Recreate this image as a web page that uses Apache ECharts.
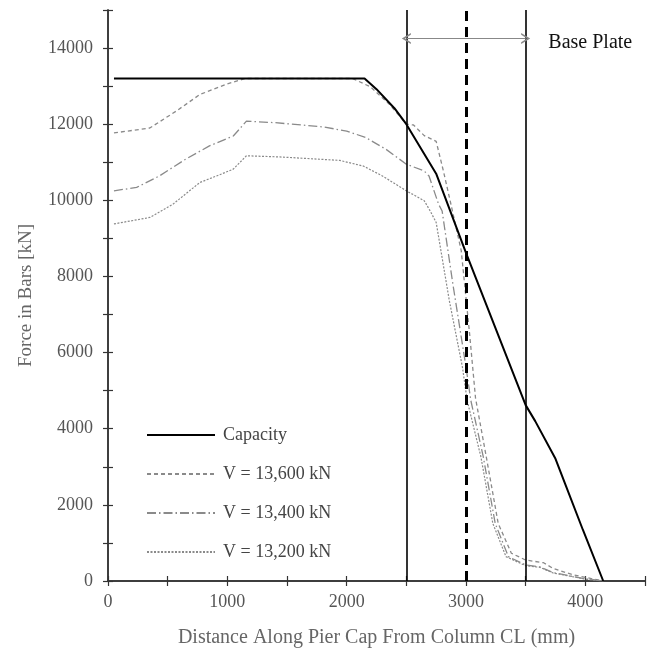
<!DOCTYPE html>
<html>
<head>
<meta charset="utf-8">
<script src="https://cdn.jsdelivr.net/npm/echarts@6/dist/echarts.min.js"></script>
<style>
    html, body { margin: 0; padding: 0; background: #fff; }
    .chart { width: 656px; height: 650px; }
</style>
</head>
<body>
<div class="chart"></div>
<script>
// distance (mm), force (kN)
var capacity = [
    [50, 13200], [2150, 13200], [2250, 12920], [2400, 12420], [2500, 12000],
    [2750, 10700], [3000, 8620], [3500, 4620], [3580, 4200], [3750, 3210],
    [3830, 2560], [3980, 1340], [4150, 0]
];
var v13600 = [
    [50, 11770], [350, 11900], [570, 12340], [770, 12780], [1000, 13060],
    [1150, 13200], [2050, 13200], [2200, 12980], [2360, 12520], [2500, 12000],
    [2560, 11980], [2650, 11700], [2750, 11550], [2810, 10780], [2870, 9950],
    [2960, 8680], [3030, 6500], [3080, 4800], [3170, 3260], [3270, 1510],
    [3380, 730], [3500, 550], [3650, 480], [3730, 330], [3900, 160], [4150, 0]
];
var v13400 = [
    [50, 10250], [240, 10340], [430, 10640], [650, 11080], [850, 11430],
    [1050, 11690], [1160, 12080], [1400, 12040], [1800, 11930], [2000, 11820],
    [2160, 11650], [2330, 11340], [2500, 10950], [2650, 10770], [2690, 10640],
    [2770, 9900], [2800, 9720], [2890, 7800], [3000, 5620], [3040, 4750],
    [3145, 3260], [3245, 1510], [3355, 640], [3500, 420], [3620, 370],
    [3730, 220], [4010, 50], [4150, 0]
];
var v13200 = [
    [50, 9380], [350, 9550], [545, 9900], [770, 10470], [910, 10640],
    [1050, 10820], [1160, 11170], [1440, 11140], [1940, 11050], [2140, 10900],
    [2300, 10640], [2500, 10250], [2650, 9990], [2700, 9720], [2750, 9420],
    [2860, 7370], [2970, 5620], [3010, 4740], [3125, 3260], [3225, 1510],
    [3335, 640], [3500, 400], [3620, 360], [3730, 210], [4010, 45], [4150, 0]
];
var seriesNames = ['Capacity', 'V = 13,600 kN', 'V = 13,400 kN', 'V = 13,200 kN'];
var plateEdges = [2500, 3500];
var plateCentre = 3000;
var plateArrowY = 14250;
var plateLabel = 'Base Plate';

(function () {
    var mychart = echarts.init(document.querySelector('.chart'));
    var font = 'Liberation Serif';
    var grey = '#8a8a8a';
    var chevron = 'path://M5,0 L10,8 L8.4,8 L5,2.8 L1.6,8 L0,8 Z';

    var tickFmt = function (step, top) {
        return function (v) {
            return (v % step === 0 && v < top) ? String(v) : '';
        };
    };

    var xBase = {
        type: 'value',
        min: 0,
        max: 4500,
        interval: 500,
        axisLine: { lineStyle: { color: '#333', width: 1.5 } },
        splitLine: { show: false }
    };
    var yBase = {
        type: 'value',
        min: 0,
        max: 15000,
        interval: 1000,
        axisLine: { lineStyle: { color: '#333', width: 1.5 } },
        splitLine: { show: false }
    };

    var option = {
        animation: false,
        textStyle: { fontFamily: font },
        grid: { left: 108, right: 11, top: 10, bottom: 69, outerBoundsMode: 'none', containLabel: false },
        legend: {
            orient: 'vertical',
            left: 141,
            top: 421,
            itemWidth: 68,
            itemHeight: 14,
            itemGap: 21,
            data: seriesNames,
            itemStyle: { opacity: 0 },
            textStyle: { fontFamily: font, fontSize: 18, color: '#444', padding: [0, 0, 0, 3] }
        },
        xAxis: [
            Object.assign({}, xBase, {
                name: 'Distance Along Pier Cap From Column CL (mm)',
                nameLocation: 'middle',
                nameGap: 47,
                nameTextStyle: { fontFamily: font, fontSize: 20, color: '#666' },
                axisTick: { length: 5, lineStyle: { color: '#333', width: 1.2 } },
                axisLabel: { formatter: tickFmt(1000, 4500), margin: 12, fontFamily: font, fontSize: 18, color: '#555' }
            }),
            Object.assign({}, xBase, {
                position: 'bottom',
                axisTick: { inside: true, length: 5, lineStyle: { color: '#333', width: 1.2 } },
                axisLabel: { show: false }
            })
        ],
        yAxis: [
            Object.assign({}, yBase, {
                name: 'Force in Bars [kN]',
                nameLocation: 'middle',
                nameGap: 72,
                nameTextStyle: { fontFamily: font, fontSize: 19, color: '#666' },
                axisTick: { length: 5, lineStyle: { color: '#333', width: 1.2 } },
                axisLabel: { formatter: tickFmt(2000, 15000), margin: 15, fontFamily: font, fontSize: 18, color: '#555' }
            }),
            Object.assign({}, yBase, {
                position: 'left',
                axisTick: { inside: true, length: 5, lineStyle: { color: '#333', width: 1.2 } },
                axisLabel: { show: false }
            })
        ],
        series: [
            {
                name: seriesNames[0],
                type: 'line',
                data: capacity,
                symbol: 'none',
                z: 5,
                lineStyle: { color: '#000', width: 2 },
                itemStyle: { color: '#000' },
                markLine: {
                    silent: true,
                    symbol: 'none',
                    label: { show: false },
                    data: [
                        { xAxis: plateEdges[0], lineStyle: { color: '#000', width: 1.6, type: 'solid' } },
                        { xAxis: plateEdges[1], lineStyle: { color: '#000', width: 1.6, type: 'solid' } },
                        { xAxis: plateCentre, lineStyle: { color: '#000', width: 3, type: [10, 6] } }
                    ]
                }
            },
            {
                name: seriesNames[1],
                type: 'line',
                data: v13600,
                symbol: 'none',
                z: 3,
                lineStyle: { color: grey, width: 1.3, type: [4, 3] },
                itemStyle: { color: grey }
            },
            {
                name: seriesNames[2],
                type: 'line',
                data: v13400,
                symbol: 'none',
                z: 3,
                lineStyle: { color: grey, width: 1.3, type: [9, 3, 1.5, 3] },
                itemStyle: { color: grey }
            },
            {
                name: seriesNames[3],
                type: 'line',
                data: v13200,
                symbol: 'none',
                z: 3,
                lineStyle: { color: grey, width: 1.2, type: [2, 1.5] },
                itemStyle: { color: grey }
            },
            {
                name: 'plate',
                type: 'line',
                data: [],
                markLine: {
                    silent: true,
                    symbol: [chevron, chevron],
                    symbolSize: [11, 9],
                    label: { show: false },
                    lineStyle: { color: '#888', width: 1.2, type: 'solid' },
                    itemStyle: { color: '#000' },
                    data: [
                        [{ coord: [plateEdges[0], plateArrowY] }, { coord: [plateEdges[1], plateArrowY] }]
                    ]
                },
                markPoint: {
                    silent: true,
                    symbol: 'circle',
                    symbolSize: 0,
                    label: {
                        show: true,
                        position: 'right',
                        distance: 0,
                        offset: [0, 4],
                        formatter: plateLabel,
                        fontFamily: font,
                        fontSize: 20,
                        color: '#111'
                    },
                    data: [{ coord: [3690, plateArrowY] }]
                }
            }
        ]
    };
    mychart.setOption(option);
})();
</script>
</body>
</html>
